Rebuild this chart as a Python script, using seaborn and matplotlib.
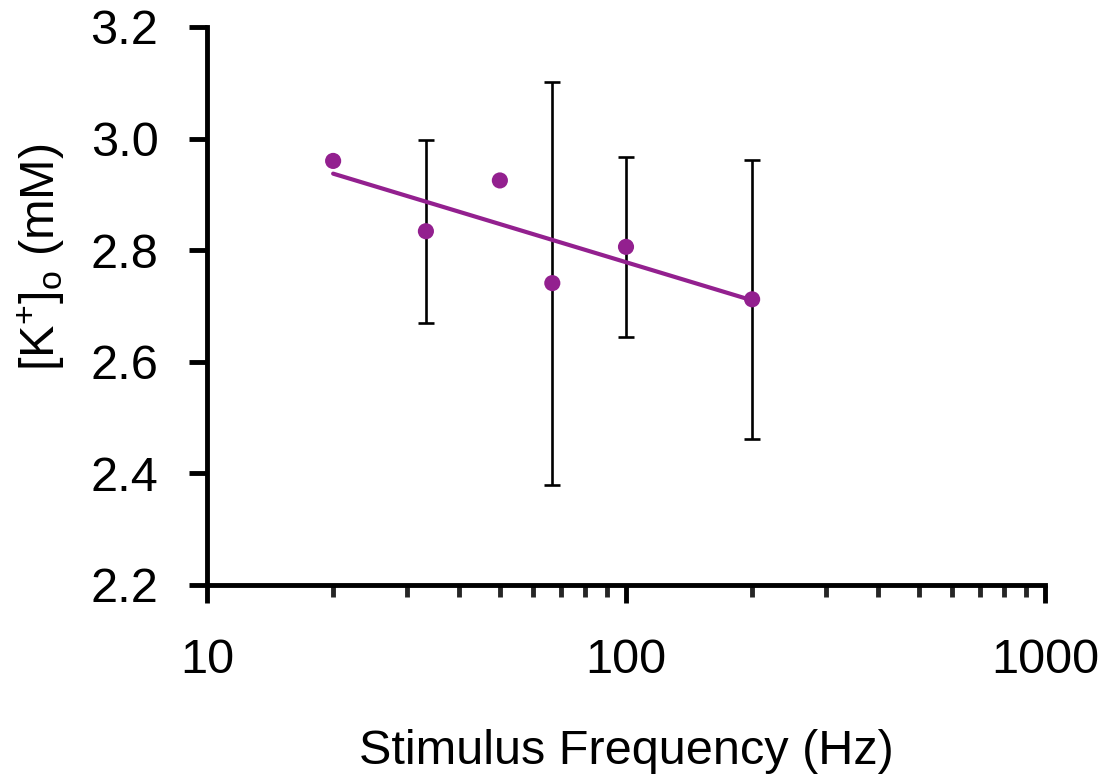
import numpy as np
import pandas as pd
import matplotlib
matplotlib.use("Agg")
import matplotlib.pyplot as plt
import matplotlib.ticker as mticker
import seaborn as sns

# Data
freq_hz = [20, 33.3, 50, 66.7, 100, 200]
k_mM = [2.960, 2.834, 2.925, 2.741, 2.806, 2.712]
err_x = [33.3, 66.7, 100, 200]
err_y = [2.834, 2.741, 2.806, 2.712]
err_lo = [2.670, 2.379, 2.644, 2.462]
err_hi = [2.998, 3.101, 2.967, 2.961]

purple = "#93208F"

sns.set_theme(style="white")
plt.rcParams["font.family"] = ["Liberation Sans", "DejaVu Sans"]
plt.rcParams["mathtext.fontset"] = "custom"
plt.rcParams["mathtext.rm"] = "Liberation Sans"
plt.rcParams["mathtext.it"] = "Liberation Sans:italic"

df = pd.DataFrame({"freq": freq_hz, "k": k_mM})

fig = plt.figure(figsize=(11.12, 7.84), dpi=100)
ax = fig.add_axes([207 / 1112, 1 - 585 / 784, (1045 - 207) / 1112, (585 - 27) / 784])

ax.set_xscale("log")
ax.set_xlim(10, 1000)
ax.set_ylim(2.2, 3.2)

yerr = [np.array(err_y) - np.array(err_lo), np.array(err_hi) - np.array(err_y)]
ax.errorbar(err_x, err_y, yerr=yerr, fmt="none", ecolor="black",
            elinewidth=1.9, capsize=5.8, capthick=1.9, zorder=2)

sns.regplot(data=df, x="freq", y="k", logx=True, ci=None, scatter=False,
            truncate=True, color=purple, line_kws={"linewidth": 3.0, "zorder": 3}, ax=ax)

sns.scatterplot(data=df, x="freq", y="k", color=purple, s=135, edgecolor="none",
                linewidth=0, zorder=4, ax=ax)

ax.set_yticks([2.2, 2.4, 2.6, 2.8, 3.0, 3.2])
ax.yaxis.set_major_formatter(mticker.FormatStrFormatter("%.1f"))
ax.set_xticks([10, 100, 1000])
ax.xaxis.set_major_formatter(mticker.FixedFormatter(["10", "100", "1000"]))
ax.xaxis.set_minor_locator(mticker.LogLocator(base=10, subs=np.arange(2, 10), numticks=20))
ax.xaxis.set_minor_formatter(mticker.NullFormatter())

for side in ["top", "right"]:
    ax.spines[side].set_visible(False)
for side in ["left", "bottom"]:
    ax.spines[side].set_linewidth(3.5)
    ax.spines[side].set_color("black")

ax.tick_params(axis="both", which="major", direction="out", length=13, width=3.5,
               labelsize=35, colors="black", bottom=True, left=True)
ax.tick_params(axis="x", which="major", pad=25)
ax.tick_params(axis="y", which="major", pad=22)
ax.tick_params(axis="x", which="minor", direction="out", length=8.5, width=3.5,
               bottom=True)

ax.set_xlabel("Stimulus Frequency (Hz)", fontsize=35, color="black", labelpad=33)
ax.set_ylabel(r"[K$^{+}$]$_{\rm o}$ (mM)", fontsize=35, color="black")
ax.yaxis.set_label_coords(-0.167, 0.588)

fig.savefig("out.png", dpi=100)
